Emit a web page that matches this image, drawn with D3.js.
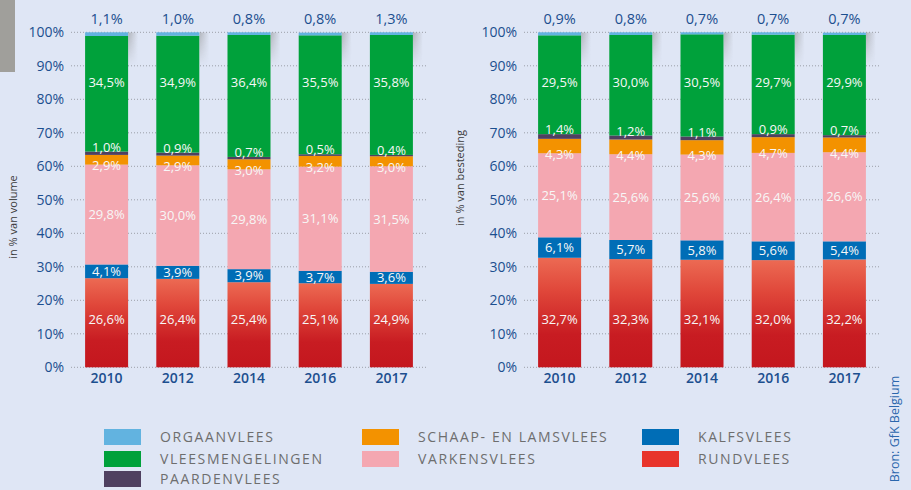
<!DOCTYPE html>
<html>
<head>
<meta charset="utf-8">
<script src="https://cdn.jsdelivr.net/npm/d3@7/dist/d3.min.js"></script>
<style>
  html, body { margin: 0; padding: 0; background: #dfe6f5; }
  svg { display: block; font-family: "Open Sans", "Noto Sans", sans-serif; }
</style>
</head>
<body>
<svg id="chart" width="911" height="490"></svg>
<script>
// Years on the x axis
const years = ["2010", "2012", "2014", "2016", "2017"];

// Meat categories, bottom to top of each stack
const seriesKeys = ["rund", "kalf", "varken", "schaap", "paard", "vlees", "orgaan"];
const seriesNames = {
  orgaan: "ORGAANVLEES", vlees: "VLEESMENGELINGEN", paard: "PAARDENVLEES",
  schaap: "SCHAAP- EN LAMSVLEES", varken: "VARKENSVLEES",
  kalf: "KALFSVLEES", rund: "RUNDVLEES"
};
const seriesColors = {
  orgaan: "#62b3e0", vlees: "#00a13b", paard: "#4f4060",
  schaap: "#f39200", varken: "#f4a7b1", kalf: "#006db6", rund: "#e8342b"
};

// Share in volume (%)
const volRund   = [26.6, 26.4, 25.4, 25.1, 24.9];
const volKalf   = [4.1, 3.9, 3.9, 3.7, 3.6];
const volVarken = [29.8, 30.0, 29.8, 31.1, 31.5];
const volSchaap = [2.9, 2.9, 3.0, 3.2, 3.0];
const volPaard  = [1.0, 0.9, 0.7, 0.5, 0.4];
const volVlees  = [34.5, 34.9, 36.4, 35.5, 35.8];
const volOrgaan = [1.1, 1.0, 0.8, 0.8, 1.3];

// Share in spending (%)
const bstRund   = [32.7, 32.3, 32.1, 32.0, 32.2];
const bstKalf   = [6.1, 5.7, 5.8, 5.6, 5.4];
const bstVarken = [25.1, 25.6, 25.6, 26.4, 26.6];
const bstSchaap = [4.3, 4.4, 4.3, 4.7, 4.4];
const bstPaard  = [1.4, 1.2, 1.1, 0.9, 0.7];
const bstVlees  = [29.5, 30.0, 30.5, 29.7, 29.9];
const bstOrgaan = [0.9, 0.8, 0.7, 0.7, 0.7];

// Y axis ticks
const yTicks = [0, 10, 20, 30, 40, 50, 60, 70, 80, 90, 100];

// Legend layout: columns of categories
const legendColumns = [
  ["orgaan", "vlees", "paard"],
  ["schaap", "varken"],
  ["kalf", "rund"]
];

const svg = d3.select("#chart");
const fmt = v => v.toFixed(1).replace(".", ",") + "%";
const blue = "#1c4f8f";

// Gradients
const defs = svg.append("defs");
const rg = defs.append("linearGradient").attr("id", "rundGrad")
  .attr("x1", 0).attr("y1", 0).attr("x2", 0).attr("y2", 1);
rg.append("stop").attr("offset", "0%").attr("stop-color", "#ec6a53");
rg.append("stop").attr("offset", "30%").attr("stop-color", "#e0473a");
rg.append("stop").attr("offset", "70%").attr("stop-color", "#c81c22");
rg.append("stop").attr("offset", "100%").attr("stop-color", "#c4171e");

const sg = defs.append("linearGradient").attr("id", "shadowGrad")
  .attr("x1", 0).attr("y1", 0).attr("x2", 1).attr("y2", 0);
sg.append("stop").attr("offset", "0%").attr("stop-color", "#8a8a8a").attr("stop-opacity", 0.55);
sg.append("stop").attr("offset", "100%").attr("stop-color", "#8a8a8a").attr("stop-opacity", 0);
const sm = defs.append("linearGradient").attr("id", "shadowFade")
  .attr("x1", 0).attr("y1", 0).attr("x2", 0).attr("y2", 1);
sm.append("stop").attr("offset", "0%").attr("stop-color", "#fff").attr("stop-opacity", 1);
sm.append("stop").attr("offset", "100%").attr("stop-color", "#fff").attr("stop-opacity", 0);
defs.append("mask").attr("id", "shadowMask").attr("maskContentUnits", "objectBoundingBox")
  .append("rect").attr("width", 1).attr("height", 1).attr("fill", "url(#shadowFade)");

// Grey tab in the corner
svg.append("rect").attr("x", 0).attr("y", 0).attr("width", 15).attr("height", 72)
  .attr("fill", "#a09f9b");

function drawPanel(cfg) {
  const data = years.map((yr, i) => {
    const row = { year: yr };
    seriesKeys.forEach(k => row[k] = cfg.values[k][i]);
    return row;
  });
  const stack = d3.stack().keys(seriesKeys)(data);

  const x = d3.scaleBand().domain(years).range([cfg.x0, cfg.x1])
    .paddingInner(0.396).paddingOuter(0.198);
  // Stacks are capped at the 100% line
  const y = d3.scaleLinear().domain([0, 100]).range([367.3, 32.3]).clamp(true);

  const g = svg.append("g");

  // Dotted gridlines
  g.append("g").selectAll("line").data(yTicks).join("line")
    .attr("x1", cfg.x0).attr("x2", cfg.x1)
    .attr("y1", d => y(d)).attr("y2", d => y(d))
    .attr("stroke", "#9b9fa8").attr("stroke-width", 1)
    .attr("stroke-dasharray", "1,2");

  // Y axis labels
  const yAxis = d3.axisLeft(y).tickValues(yTicks).tickFormat(d => d + "%").tickSize(0).tickPadding(0);
  const ya = g.append("g").attr("transform", `translate(${cfg.x0 - 7},0)`).call(yAxis);
  ya.select(".domain").remove();
  ya.selectAll("text").attr("fill", blue).attr("font-size", 14)
    .attr("font-family", "'Open Sans', sans-serif");

  // X axis labels
  const xAxis = d3.axisBottom(x).tickSize(0).tickPadding(0);
  const xa = g.append("g").attr("transform", "translate(0,373)").call(xAxis);
  xa.select(".domain").remove();
  xa.selectAll("text").attr("fill", blue).attr("font-size", 14).attr("font-weight", 600)
    .attr("font-family", "'Open Sans', sans-serif");

  // Shadows to the right of each bar top
  g.append("g").selectAll("rect").data(years).join("rect")
    .attr("x", d => x(d) + x.bandwidth())
    .attr("y", y(100))
    .attr("width", 10).attr("height", 34)
    .attr("fill", "url(#shadowGrad)").attr("mask", "url(#shadowMask)");

  // Stacked segments
  stack.forEach(layer => {
    const key = layer.key;
    g.append("g").selectAll("rect").data(layer).join("rect")
      .attr("x", d => x(d.data.year))
      .attr("width", x.bandwidth())
      .attr("y", d => y(d[1]))
      .attr("height", d => y(d[0]) - y(d[1]))
      .attr("fill", key === "rund" ? "url(#rundGrad)" : seriesColors[key]);
  });

  // Value labels
  const labelY = {
    rund:   d => y(14.4),
    kalf:   d => (y(d[0]) + y(d[1])) / 2,
    varken: d => (y(d[0]) + y(d[1])) / 2,
    schaap: d => y(d[0]) + 1,
    paard:  d => y(d[1]) - 4.5,
    vlees:  d => y(85),
    orgaan: d => 19
  };
  stack.forEach(layer => {
    const key = layer.key;
    g.append("g").selectAll("text").data(layer).join("text")
      .attr("x", d => x(d.data.year) + x.bandwidth() / 2)
      .attr("y", labelY[key])
      .attr("dy", "0.35em")
      .attr("text-anchor", "middle")
      .attr("font-size", key === "orgaan" ? 14.5 : 13)
      .attr("fill", key === "orgaan" ? blue : "#f7f7f7")
      .text(d => fmt(d.data[key]));
  });

  // Axis title
  svg.append("text")
    .attr("transform", `translate(${cfg.titleX},${cfg.titleY}) rotate(-90)`)
    .attr("text-anchor", "middle").attr("dy", "0.35em")
    .attr("font-size", 11).attr("fill", "#3a3a3a")
    .text(cfg.title);
}

drawPanel({
  x0: 71, x1: 427,
  values: { rund: volRund, kalf: volKalf, varken: volVarken, schaap: volSchaap,
            paard: volPaard, vlees: volVlees, orgaan: volOrgaan },
  title: "in % van volume", titleX: 13, titleY: 217
});

drawPanel({
  x0: 524, x1: 880,
  values: { rund: bstRund, kalf: bstKalf, varken: bstVarken, schaap: bstSchaap,
            paard: bstPaard, vlees: bstVlees, orgaan: bstOrgaan },
  title: "in % van besteding", titleX: 460, titleY: 178
});

// Source note
svg.append("text")
  .attr("transform", "translate(895,429) rotate(-90)")
  .attr("text-anchor", "middle").attr("dy", "0.35em")
  .attr("font-size", 12.5).attr("fill", "#2b67ad")
  .text("Bron: GfK Belgium");

// Legend
const legendX = [104, 362, 642];
const legendRowY = [437, 459, 479];
legendColumns.forEach((col, ci) => {
  const lg = svg.append("g");
  const items = lg.selectAll("g").data(col).join("g")
    .attr("transform", (d, ri) => `translate(${legendX[ci]},${legendRowY[ri]})`);
  items.append("rect").attr("x", 0).attr("y", -8).attr("width", 37).attr("height", 16)
    .attr("fill", d => seriesColors[d]);
  items.append("text").attr("x", 56).attr("dy", "0.35em")
    .attr("font-size", 14).attr("letter-spacing", "1.6px").attr("fill", "#6e6e6e")
    .text(d => seriesNames[d]);
});
</script>
</body>
</html>
